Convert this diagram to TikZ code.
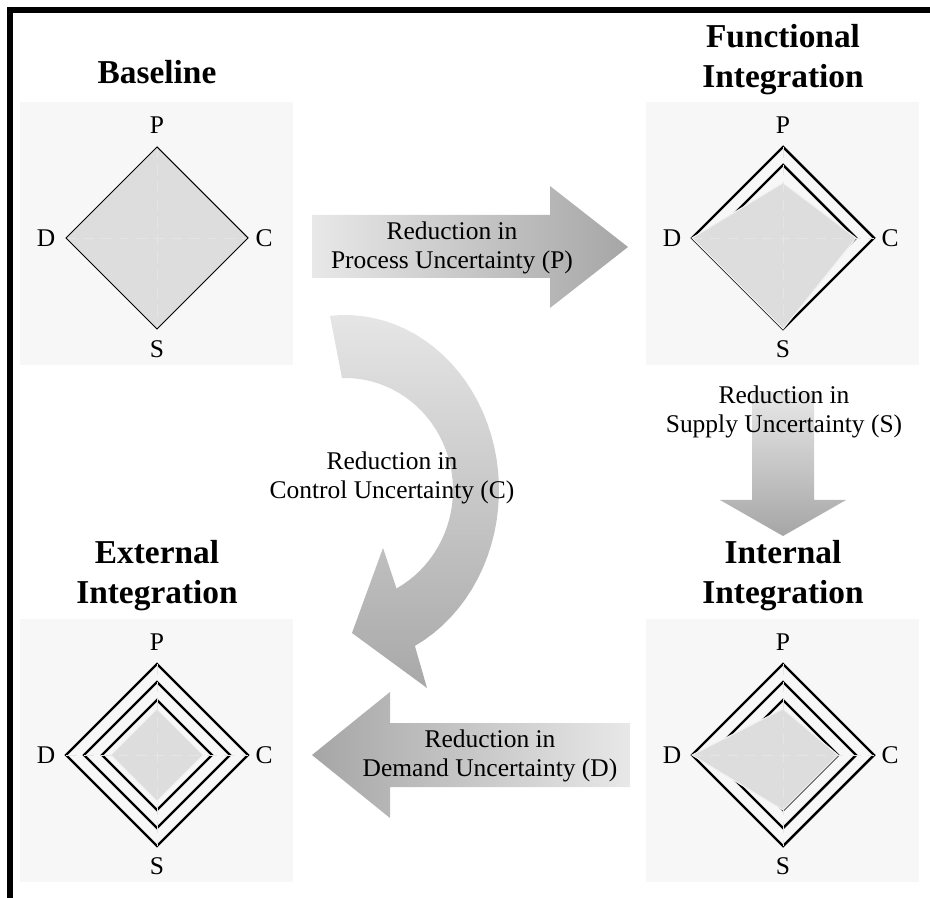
\documentclass[tikz,border=0pt]{standalone}
\usepackage{fontspec}
\setmainfont{Liberation Serif}

\begin{document}
\begin{tikzpicture}[x=0.02cm,y=-0.02cm,
    panel/.style={fill=gray!6,draw=none},
    ring/.style={draw=black,line width=1.4pt,line join=miter},
    share/.style={fill=gray!27,draw=gray!12,line width=0.6pt},
    spoke/.style={draw=gray!20,line width=0.5pt,dash pattern=on 6pt off 4pt},
    corner/.style={font=\fontsize{14.5}{17}\selectfont},
    heading/.style={font=\fontsize{19}{22.7}\selectfont\bfseries,align=center},
    caption/.style={font=\fontsize{14.5}{16.8}\selectfont,align=center}]

    % Frame
    \useasboundingbox (0,0) rectangle (930,898);
    \draw[line width=3.4pt] (10,898) -- (10,10) -- (930,10);

    % Baseline chart
    \begin{scope}[shift={(157,238)}]
        \fill[panel] (-137,-136) rectangle (136,127);
        \fill[share,draw=none] (0,-91) -- (91,0) -- (0,91) -- (-91,0) -- cycle;
        \draw[spoke] (0,-91) -- (0,91) (-91,0) -- (91,0);
        \draw[line width=0.6pt] (0,-91) -- (91,0) -- (0,91) -- (-91,0) -- cycle;
        \foreach \lab/\px/\py in {P/0/-113,C/107/0,S/0/111,D/-111/0}
            \node[corner] (b\lab) at (\px,\py) {\lab};
    \end{scope}

    % Integration charts: rings first, share on top
    \foreach \nm/\cx/\cy/\rings/\sp/\sc/\ss/\sd in {
        f/783/238/{91,73}/55/73/91/91,
        i/783/755/{91,73,55}/46/55/55/91,
        e/157/755/{91,73,55}/46/46/46/46} {
        \begin{scope}[shift={(\cx,\cy)}]
            \fill[panel] (-137,-136) rectangle (136,127);
            \foreach \r in \rings
                \draw[ring] (0,-\r) -- (\r,0) -- (0,\r) -- (-\r,0) -- cycle;
            \filldraw[share] (0,-\sp) -- (\sc,0) -- (0,\ss) -- (-\sd,0) -- cycle;
            \draw[spoke] (0,-91) -- (0,91) (-91,0) -- (91,0);
            \foreach \lab/\px/\py in {P/0/-113,C/107/0,S/0/111,D/-111/0}
                \node[corner] (\nm\lab) at (\px,\py) {\lab};
        \end{scope}
    }

    % Titles
    \node[heading] (baseTitle) at (157,72) {Baseline};
    \node[heading] (funcTitle) at (783,60) {Functional\\Integration};
    \node[heading] (intlTitle) at (783,576) {Internal\\Integration};
    \node[heading] (extlTitle) at (157,576) {External\\Integration};

    % Block arrows
    \shade[left color=gray!18,right color=gray!70]
        (312,215) -- (550,215) -- (550,186) -- (628,247) -- (550,308) -- (550,278) -- (312,278) -- cycle;
    \shade[top color=gray!18,bottom color=gray!70]
        (752,392) -- (814,392) -- (814,500) -- (846,500) -- (783,536) -- (720,500) -- (752,500) -- cycle;
    \shade[left color=gray!70,right color=gray!18]
        (630,723) -- (390,723) -- (390,692) -- (312,755) -- (390,818) -- (390,787) -- (630,787) -- cycle;
    \shade[top color=gray!20,bottom color=gray!68]
        plot[domain=95.6:-63,samples=40,variable=\t] ({345+154*cos(\t)},{490-175*sin(\t)})
        -- (427,688) -- (352,633) -- (383,548) -- (396,587)
        -- plot[domain=-61.8:91.6,samples=40,variable=\t] ({345+108*cos(\t)},{490-112*sin(\t)})
        -- cycle;

    % Arrow texts
    \node[caption] (procText) at (452,248) {Reduction in\\Process Uncertainty (P)};
    \node[caption] (suppText) at (784,412) {Reduction in\\Supply Uncertainty (S)};
    \node[caption] (ctrlText) at (392,478) {Reduction in\\Control Uncertainty (C)};
    \node[caption] (demText) at (490,756) {Reduction in\\Demand Uncertainty (D)};

\end{tikzpicture}
\end{document}
